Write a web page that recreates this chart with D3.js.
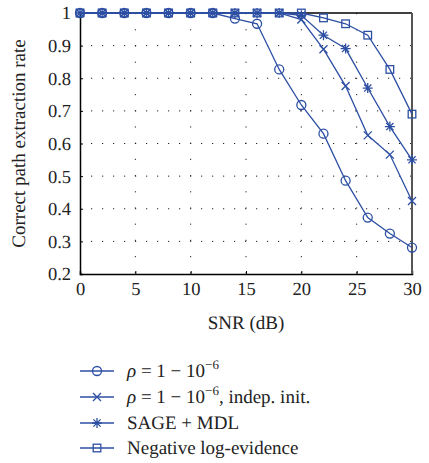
<!DOCTYPE html>
<html><head><meta charset="utf-8">
<script src="https://cdn.jsdelivr.net/npm/d3@7"></script>
<style>body{margin:0;background:#fff}svg{display:block}svg text{font-family:'Liberation Serif',serif;text-rendering:geometricPrecision}</style>
</head><body>
<svg id="c" width="429" height="463"></svg>
<script>
const snr = [0,2,4,6,8,10,12,14,16,18,20,22,24,26,28,30];
const rhoVals = [1,1,1,1,1,1,1,0.983,0.967,0.827,0.718,0.63,0.486,0.373,0.324,0.281];
const indepVals = [1,1,1,1,1,1,1,1,1,1,0.98,0.889,0.776,0.625,0.566,0.424];
const sageVals = [1,1,1,1,1,1,1,1,1,1,0.993,0.932,0.891,0.77,0.652,0.55];
const negVals = [1,1,1,1,1,1,1,1,1,1,1,0.985,0.967,0.932,0.827,0.69];
const xTicks = [0,5,10,15,20,25,30];
const yTicks = [0.2,0.3,0.4,0.5,0.6,0.7,0.8,0.9,1];
const markers = ["circle","cross","star","square"];

const color = "#2d4fa3";
const svg = d3.select("#c");
const x = d3.scaleLinear().domain([0,30]).range([80,412]);
const y = d3.scaleLinear().domain([0.2,1]).range([274,13]);
const font = "'Liberation Serif', serif";
const fs = "18.5px";
const tilt = "rotate(-0.01)";

// grid
const g = svg.append("g");
g.selectAll(".hg").data(yTicks.filter(v=>v>0.25&&v<0.95)).join("line")
  .attr("x1",x(0)).attr("x2",x(30)).attr("y1",d=>y(d)).attr("y2",d=>y(d))
  .attr("stroke","#222").attr("stroke-width",1).attr("stroke-dasharray","1.2,9.8");
g.selectAll(".vg").data(xTicks.filter(v=>v>0&&v<30)).join("line")
  .attr("x1",d=>x(d)).attr("x2",d=>x(d)).attr("y1",y(1)).attr("y2",y(0.2))
  .attr("stroke","#222").attr("stroke-width",1).attr("stroke-dasharray","1.2,15");

// axes
const xAxis = d3.axisBottom(x).tickValues(xTicks).tickSize(-3).tickPadding(8).tickFormat(d3.format("d"));
const yAxis = d3.axisLeft(y).tickValues(yTicks).tickSize(-3).tickPadding(9).tickFormat(d=>d===1?"1":d3.format(".1f")(d));
const gx = svg.append("g").attr("transform",`translate(0,${y(0.2)})`).call(xAxis);
const gy = svg.append("g").attr("transform",`translate(${x(0)},0)`).call(yAxis);
[gx,gy].forEach(a=>{
  a.attr("font-family",null).attr("font-size",null);
  a.select(".domain").attr("stroke","#000").attr("stroke-width",1.5);
  a.selectAll(".tick line").attr("stroke","#000");
  a.selectAll("text").style("font-family",font).style("font-size",fs).attr("fill","#222").attr("transform",tilt);
});
// top and right border
svg.append("line").attr("x1",x(0)).attr("x2",x(30)).attr("y1",y(1)).attr("y2",y(1)).attr("stroke","#000").attr("stroke-width",1.5);
svg.append("line").attr("x1",x(30)).attr("x2",x(30)).attr("y1",y(1)).attr("y2",y(0.2)).attr("stroke","#555").attr("stroke-width",2);

// labels
svg.append("text").attr("transform",`translate(${x(15)},329) ${tilt}`).attr("text-anchor","middle")
  .style("font-family",font).style("font-size","19px").attr("fill","#222").text("SNR (dB)");
svg.append("text").attr("transform",`translate(25,${(y(0.2)+y(1))/2}) rotate(-90)`).attr("text-anchor","middle")
  .style("font-family",font).style("font-size","19px").attr("fill","#222").text("Correct path extraction rate");

function drawMarker(sel, type, cx, cy){
  const gm = sel.append("g").attr("transform",`translate(${cx},${cy})`)
    .attr("stroke",color).attr("fill","none").attr("stroke-width",1.3);
  if(type==="circle") gm.append("circle").attr("r",4.5);
  else if(type==="square") gm.append("rect").attr("x",-3.8).attr("y",-3.8).attr("width",7.6).attr("height",7.6);
  else if(type==="cross") gm.append("path").attr("d","M-4,-4L4,4M-4,4L4,-4");
  else if(type==="star") gm.append("path").attr("d","M-5,0H5M0,-5V5M-3.6,-3.6L3.6,3.6M-3.6,3.6L3.6,-3.6");
}

const allSeries = [rhoVals, indepVals, sageVals, negVals];
const line = d3.line().x((d,i)=>x(snr[i])).y(d=>y(d));
const plot = svg.append("g");
allSeries.forEach((vals,k)=>{
  plot.append("path").attr("d",line(vals)).attr("fill","none").attr("stroke",color).attr("stroke-width",1.3);
  vals.forEach((v,i)=>drawMarker(plot, markers[k], x(snr[i]), y(v)));
});

// legend
const legY = [371, 397, 423, 448];
const lg = svg.append("g");
legY.forEach((ly,k)=>{
  lg.append("line").attr("x1",80).attr("x2",114).attr("y1",ly).attr("y2",ly).attr("stroke",color).attr("stroke-width",1.3);
  drawMarker(lg, markers[k], 97, ly);
});
function legText(k){
  return lg.append("text").attr("transform",`translate(127,${legY[k]+6}) ${tilt}`)
    .style("font-family",font).style("font-size","19px").attr("fill","#222");
}
[0,1].forEach(k=>{
  const t = legText(k);
  t.append("tspan").attr("font-style","italic").text("ρ");
  t.append("tspan").text(" = 1 − 10");
  t.append("tspan").style("font-size","13px").attr("dy",-8).text("−6");
  if(k===1) t.append("tspan").attr("dy",8).text(", indep. init.");
});
legText(2).text("SAGE + MDL");
legText(3).text("Negative log-evidence");
</script>
</body></html>
